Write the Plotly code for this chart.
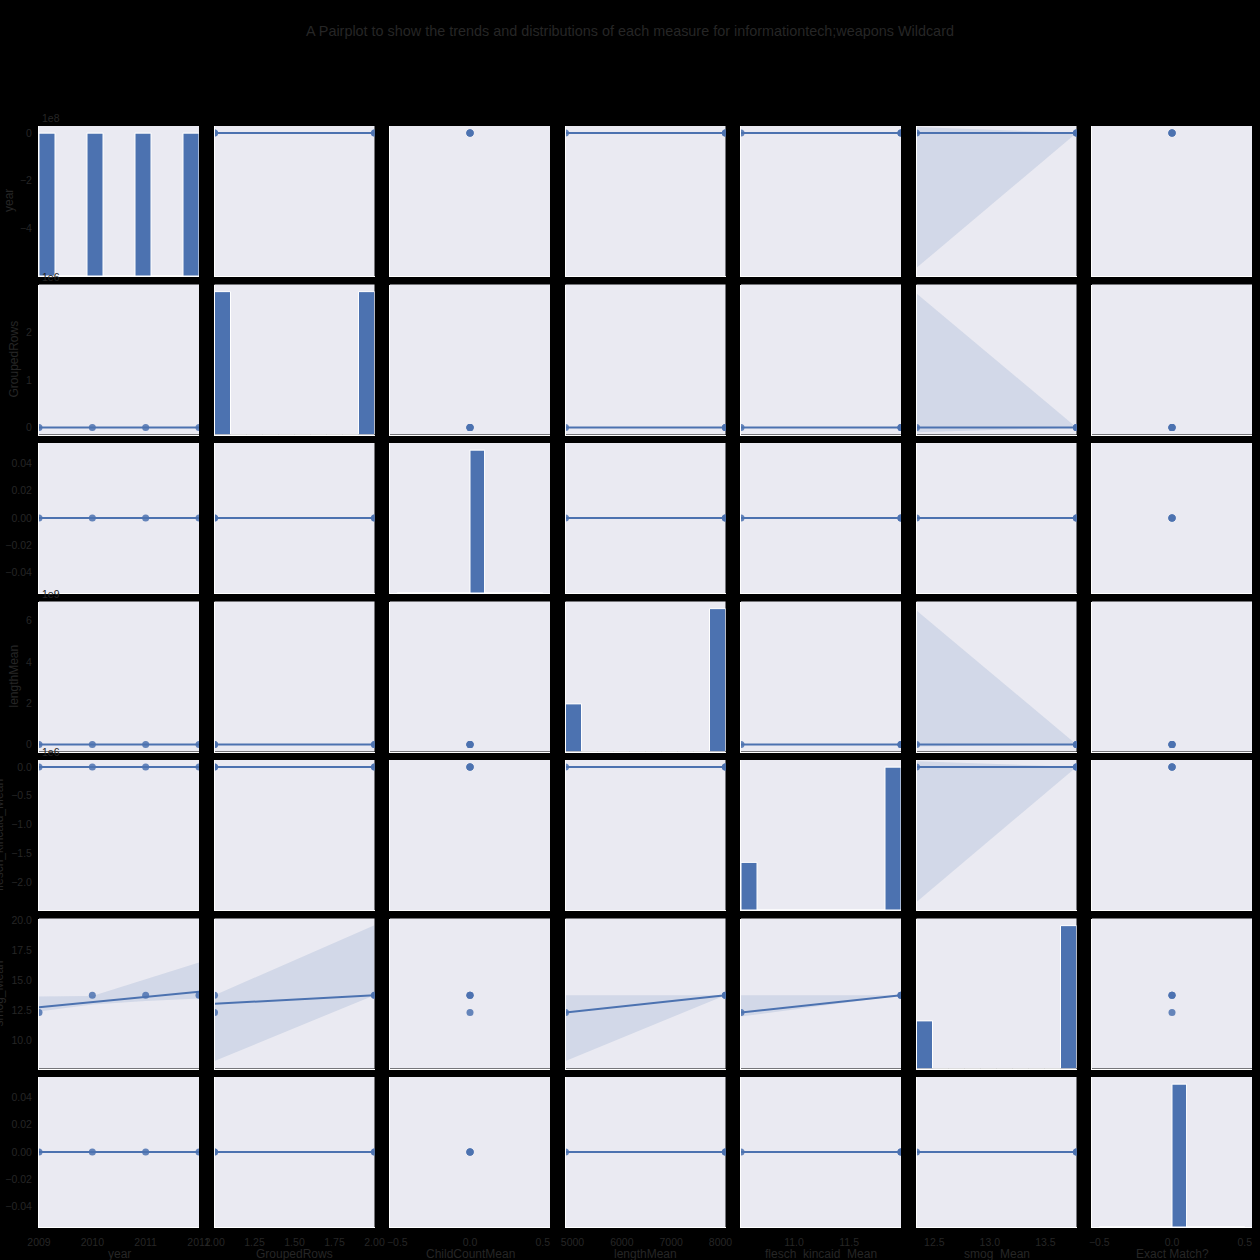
import numpy as np
import plotly.graph_objects as go

# ---------------- data ----------------
year = [2009, 2010, 2011, 2012]
grouped_rows = [1, 1, 2, 2]
child_count_mean = [0, 0, 0, 0]
length_mean = [4858, 8102, 8102, 8102]
flesch_kincaid_mean = [10.52, 11.97, 11.97, 11.97]
smog_mean = [12.34, 13.78, 13.78, 13.78]
exact_match = [0, 0, 0, 0]

variables = ["year", "GroupedRows", "ChildCountMean", "lengthMean",
             "flesch_kincaid_Mean", "smog_Mean", "Exact Match?"]
columns = [year, grouped_rows, child_count_mean, length_mean,
           flesch_kincaid_mean, smog_mean, exact_match]

# row (y) ranges
row_ranges = [[-5.98e8, 0.29e8], [-0.147e6, 3.01e6], [-0.055, 0.055],
              [-0.34e9, 6.92e9], [-2.49e6, 0.12e6], [7.67, 20.17], [-0.055, 0.055]]

# y tick values / labels per row
y_tickvals = [[0, -2e8, -4e8], [0, 1e6, 2e6], [0.04, 0.02, 0, -0.02, -0.04],
              [0, 2e9, 4e9, 6e9], [0, -0.5e6, -1e6, -1.5e6, -2e6],
              [10, 12.5, 15, 17.5, 20], [0.04, 0.02, 0, -0.02, -0.04]]
y_ticktext = [["0", "−2", "−4"], ["0", "1", "2"],
              ["0.04", "0.02", "0.00", "−0.02", "−0.04"],
              ["0", "2", "4", "6"], ["0.0", "−0.5", "−1.0", "−1.5", "−2.0"],
              ["10.0", "12.5", "15.0", "17.5", "20.0"],
              ["0.04", "0.02", "0.00", "−0.02", "−0.04"]]
offset_text = ["1e8", "1e6", "", "1e9", "1e6", "", ""]

# x tick values / labels per column
x_tickvals = [[2009, 2010, 2011, 2012], [1, 1.25, 1.5, 1.75, 2], [-0.5, 0, 0.5],
              [5000, 6000, 7000, 8000], [11.0, 11.5], [12.5, 13.0, 13.5], [-0.5, 0, 0.5]]
x_ticktext = [["2009", "2010", "2011", "2012"], ["1.00", "1.25", "1.50", "1.75", "2.00"],
              ["−0.5", "0.0", "0.5"], ["5000", "6000", "7000", "8000"],
              ["11.0", "11.5"], ["12.5", "13.0", "13.5"], ["−0.5", "0.0", "0.5"]]

# confidence bands: (row, col) -> x, lower, upper
band_year_smog_x = [2009, 2010, 2011, 2012]
band_year_smog_lo = [12.42, 13.0, 13.3, 13.5]
band_year_smog_hi = [13.68, 13.72, 15.1, 16.5]
band_rows_smog_x = [1, 2]
band_rows_smog_lo = [8.3, 13.78]
band_rows_smog_hi = [13.78, 19.6]
band_len_smog_x = [4858, 8102]
band_len_smog_lo = [8.3, 13.78]
band_len_smog_hi = [13.78, 13.78]
band_fk_smog_x = [10.52, 11.97]
band_fk_smog_lo = [12.0, 13.78]
band_fk_smog_hi = [13.78, 13.78]
band_smog_year_x = [12.34, 13.78]
band_smog_year_lo = [-5.64e8, 0]
band_smog_year_hi = [0.25e8, 0]
band_smog_rows_lo = [-0.1e6, 0]
band_smog_rows_hi = [2.82e6, 0]
band_smog_len_lo = [-0.1e9, 0]
band_smog_len_hi = [6.48e9, 0]
band_smog_fk_lo = [-2.35e6, 0]
band_smog_fk_hi = [0.1e6, 0]

bands = {
    (5, 0): (band_year_smog_x, band_year_smog_lo, band_year_smog_hi),
    (5, 1): (band_rows_smog_x, band_rows_smog_lo, band_rows_smog_hi),
    (5, 3): (band_len_smog_x, band_len_smog_lo, band_len_smog_hi),
    (5, 4): (band_fk_smog_x, band_fk_smog_lo, band_fk_smog_hi),
    (0, 5): (band_smog_year_x, band_smog_year_lo, band_smog_year_hi),
    (1, 5): (band_smog_year_x, band_smog_rows_lo, band_smog_rows_hi),
    (3, 5): (band_smog_year_x, band_smog_len_lo, band_smog_len_hi),
    (4, 5): (band_smog_year_x, band_smog_fk_lo, band_smog_fk_hi),
}

# ---------------- styling ----------------
W = H = 1260
BLUE = "#4C72B0"
TXT = "#262626"
FONT = "Liberation Sans, Arial, sans-serif"
n = len(variables)
col_left = [39 + j * 175.5 for j in range(n)]
row_top = [126 + i * 158.5 for i in range(n)]
cw, rh = 160, 150


def xr(vals):
    lo, hi = min(vals), max(vals)
    if lo == hi:
        return [lo - 0.55, hi + 0.55]
    return [lo, hi]


fig = go.Figure()
layout = dict(
    width=W, height=H, margin=dict(l=0, r=0, t=0, b=0, pad=0, autoexpand=False),
    paper_bgcolor="black", plot_bgcolor="#EAEAF2",
    showlegend=False, font=dict(family=FONT, color=TXT, size=10.5),
)
annotations = []

for i in range(n):
    for j in range(n):
        k = i * n + j + 1
        sfx = "" if k == 1 else str(k)
        xname, yname = "x" + sfx, "y" + sfx
        xd = [col_left[j] / W, (col_left[j] + cw) / W]
        yd = [1 - (row_top[i] + rh) / H, 1 - row_top[i] / H]
        xa = dict(domain=xd, anchor=yname, range=xr(columns[j]), showgrid=False,
                  zeroline=False, showline=True, linecolor="white", linewidth=1,
                  ticks="outside", ticklen=5, tickcolor="rgba(0,0,0,0)",
                  fixedrange=True, automargin=False)
        if i == n - 1:
            xa.update(tickvals=x_tickvals[j], ticktext=x_ticktext[j],
                      tickfont=dict(size=10.5, color=TXT))
        else:
            xa.update(showticklabels=False)
        ya = dict(domain=yd, anchor=xname, range=row_ranges[i], showgrid=False,
                  zeroline=False, showline=True, linecolor="white", linewidth=1,
                  ticks="outside", ticklen=4, tickcolor="rgba(0,0,0,0)",
                  fixedrange=True, automargin=False)
        if j == 0:
            ya.update(tickvals=y_tickvals[i], ticktext=y_ticktext[i],
                      tickfont=dict(size=10.5, color=TXT))
        else:
            ya.update(showticklabels=False)
        layout["xaxis" + sfx] = xa
        layout["yaxis" + sfx] = ya

        xv = np.array(columns[j], dtype=float)
        yv = np.array(columns[i], dtype=float)
        if i == j:
            # histogram on its own count scale, mapped into the row's range
            counts, edges = np.histogram(xv, bins=10)
            centers = (edges[:-1] + edges[1:]) / 2
            lo, hi = row_ranges[i]
            scale = (hi - lo) / (counts.max() * 1.05)
            fig.add_trace(go.Bar(x=centers, y=counts * scale, base=lo,
                                 width=edges[1] - edges[0],
                                 marker=dict(color=BLUE, line=dict(color="white", width=1)),
                                 customdata=counts, hovertemplate="%{customdata}",
                                 xaxis=xname, yaxis=yname))
            continue
        if (i, j) in bands:
            bx, blo, bhi = bands[(i, j)]
            fig.add_trace(go.Scatter(x=list(bx) + list(bx)[::-1],
                                     y=list(bhi) + list(blo)[::-1],
                                     fill="toself", fillcolor="rgba(76,114,176,0.15)",
                                     line=dict(width=0), mode="lines",
                                     xaxis=xname, yaxis=yname, hoverinfo="skip"))
        fig.add_trace(go.Scatter(x=xv, y=yv, mode="markers",
                                 marker=dict(color=BLUE, size=7, opacity=0.85),
                                 xaxis=xname, yaxis=yname))
        if xv.min() != xv.max():
            slope, intercept = np.polyfit(xv, yv, 1)
            lx = np.array([xv.min(), xv.max()])
            fig.add_trace(go.Scatter(x=lx, y=slope * lx + intercept, mode="lines",
                                     line=dict(color=BLUE, width=2),
                                     xaxis=xname, yaxis=yname))

# offset texts
for i in range(n):
    if offset_text[i]:
        annotations.append(dict(text=offset_text[i], x=(col_left[0] + 1) / W,
                                y=1 - (row_top[i] - 8) / H, xref="paper", yref="paper",
                                xanchor="left", yanchor="middle", showarrow=False,
                                font=dict(size=10.5, color=TXT)))

# y axis titles
ytitle_x = [9, 13, -12, 13, -1, -2, -12]
for i in range(n):
    annotations.append(dict(text=variables[i], x=ytitle_x[i] / W,
                            y=1 - (row_top[i] + rh / 2) / H, xref="paper", yref="paper",
                            xanchor="center", yanchor="middle", textangle=-90,
                            showarrow=False, font=dict(size=12, color=TXT)))
# x axis titles
for j in range(n):
    annotations.append(dict(text=variables[j], x=(col_left[j] + cw / 2) / W,
                            y=1 - 1254 / H, xref="paper", yref="paper",
                            xanchor="center", yanchor="middle", showarrow=False,
                            font=dict(size=12, color=TXT)))
# title
annotations.append(dict(
    text="A Pairplot to show the trends and distributions of each measure for informationtech;weapons Wildcard",
    x=0.5, y=1 - 31 / H, xref="paper", yref="paper", xanchor="center", yanchor="middle",
    showarrow=False, font=dict(size=14.4, color=TXT)))

layout["annotations"] = annotations
fig.update_layout(**layout)
fig.write_html("out.html")
